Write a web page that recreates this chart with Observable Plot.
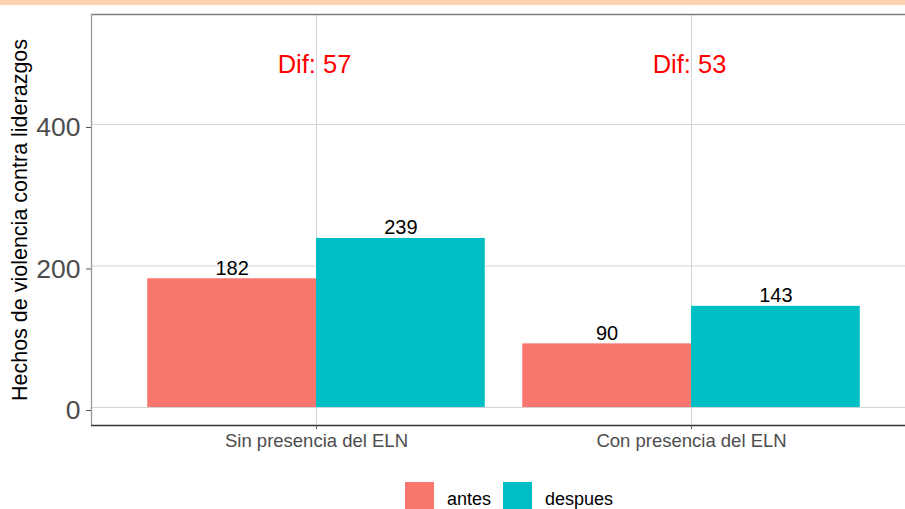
<!DOCTYPE html>
<html>
<head>
<meta charset="utf-8">
<script src="https://cdn.jsdelivr.net/npm/d3@7"></script>
<script src="https://cdn.jsdelivr.net/npm/@observablehq/plot@0.6"></script>
<style>
  html, body { margin: 0; padding: 0; background: #fff; overflow: hidden; width: 905px; height: 509px; }
  body { position: relative; font-family: "Liberation Sans", Arial, sans-serif; }
  #band { height: 5px; background: #FCD2AF; }
  #legend { position: absolute; left: 405px; top: 482px; }
  .lg-swatches { font-family: "Liberation Sans", Arial, sans-serif !important; font-size: 18px !important; color: #000 !important; display: flex !important; margin: 0 !important; min-height: 0 !important; }
  .lg-swatch { display: inline-flex !important; align-items: flex-end !important; margin-right: 12px !important; line-height: 18px !important; }
  .lg-swatch > svg { margin-right: 13px !important; margin-bottom: -3px !important; }
</style>
</head>
<body>
<div id="band"></div>
<div id="chart"></div>
<div id="legend"></div>
<script>
// ---- data ----
const categories = ["Sin presencia del ELN", "Con presencia del ELN"];
const periods = ["antes", "despues"];
const antes = [182, 90];
const despues = [239, 143];
const difs = [57, 53];
const difLabelY = 485;
const yTicks = [0, 200, 400];
const yTitle = "Hechos de violencia contra liderazgos";
const periodColors = ["#F8766D", "#00BFC4"];

// ---- derived tables ----
const dodge = 0.9; // total dodged width per category (ggplot default)
const series = [antes, despues];
const rows = categories.flatMap((c, i) =>
  periods.map((p, j) => ({
    category: c,
    pos: i + 1,
    period: p,
    value: series[j][i],
    x1: i + 1 - dodge / 2 + j * dodge / 2,
    x2: i + 1 - dodge / 2 + (j + 1) * dodge / 2
  }))
);
const difRows = categories.map((c, i) => ({pos: i + 1, label: `Dif: ${difs[i]}`, y: difLabelY}));
const xPositions = categories.map((c, i) => i + 1);
const xDomain = [0.4, categories.length + 0.6];
const yDomain = [-25.4, 555.5];

const font = "'Liberation Sans', Arial, sans-serif";
const gridColor = "#D4D4D4";

const chart = Plot.plot({
  width: 905,
  height: 470,
  marginLeft: 91,
  marginRight: 0,
  marginTop: 9,
  marginBottom: 50,
  style: {fontFamily: font, background: "white", overflow: "hidden"},
  x: {type: "linear", domain: xDomain, range: [91, 916], axis: null},
  y: {domain: yDomain, axis: null},
  color: {domain: periods, range: periodColors},
  marks: [
    Plot.ruleY(yTicks, {stroke: gridColor, strokeWidth: 1}),
    Plot.ruleX(xPositions, {stroke: gridColor, strokeWidth: 1}),
    Plot.rectY(rows, {x1: "x1", x2: "x2", y1: 0, y2: "value", fill: "period", inset: 0}),
    Plot.text(rows, {
      x: d => (d.x1 + d.x2) / 2, y: "value", text: d => String(d.value),
      lineAnchor: "bottom", dy: -4, fontSize: 20, fill: "#000"
    }),
    Plot.text(difRows, {x: "pos", y: "y", text: "label", fontSize: 25.5, fill: "#FF0000", dx: -2}),
    // panel border (top, left) and bottom axis line
    Plot.ruleY([yDomain[1]], {stroke: "#7F7F7F", strokeWidth: 1.3}),
    Plot.ruleX([xDomain[0]], {stroke: "#9A9A9A", strokeWidth: 1.3}),
    Plot.ruleY([yDomain[0]], {stroke: "#333333", strokeWidth: 1.5}),
    Plot.axisY(yTicks, {
      tickSize: 5, tickPadding: 6, fontSize: 26.5, fill: "#4D4D4D", stroke: "#555",
      label: null, dy: 3
    }),
    Plot.axisX(xPositions, {
      anchor: "bottom", tickSize: 4, tickPadding: 4, fontSize: 18.5, fill: "#4D4D4D", stroke: "#555",
      tickFormat: d => categories[d - 1], label: null
    }),
    Plot.text([yTitle], {
      frameAnchor: "left", textAnchor: "middle", text: d => d, rotate: -90, dx: -71,
      fontSize: 21.5, fill: "#000"
    })
  ]
});
document.getElementById("chart").appendChild(chart);

const legend = chart.legend("color", {
  className: "lg",
  swatchWidth: 29,
  swatchHeight: 29
});
document.getElementById("legend").appendChild(legend);
</script>
</body>
</html>
